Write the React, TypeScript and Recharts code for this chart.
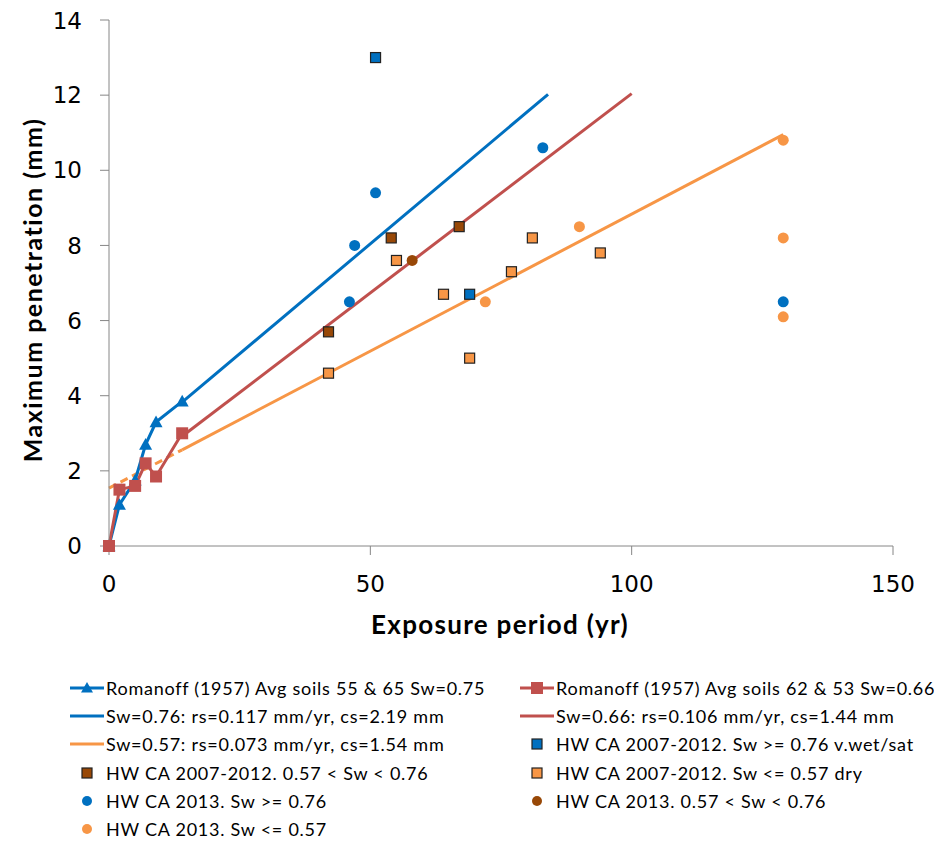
import React from "react";
import {
  ComposedChart,
  Line,
  Scatter,
  XAxis,
  YAxis,
} from "recharts";

// Romanoff (1957) averaged soils
const romanoffBlueX = [0, 2, 5, 7, 9, 14];
const romanoffBlueY = [0, 1.1, 1.75, 2.7, 3.3, 3.85];
const romanoffRedX = [0, 2, 5, 7, 9, 14];
const romanoffRedY = [0, 1.5, 1.6, 2.2, 1.85, 3.0];

// fitted lines (endpoints)
const fitBlueX = [14, 84];
const fitBlueY = [3.83, 12.02];
const fitRedX = [14, 100];
const fitRedY = [2.92, 12.04];
const fitOrangeX = [14, 129];
const fitOrangeY = [2.56, 10.95];
const fitOrangeDashX = [0, 14];
const fitOrangeDashY = [1.54, 2.56];

// HW CA 2007-2012 squares
const hwWetSqX = [51, 69];
const hwWetSqY = [13.0, 6.7];
const hwMidSqX = [42, 54, 67];
const hwMidSqY = [5.7, 8.2, 8.5];
const hwDrySqX = [42, 55, 64, 69, 77, 81, 94];
const hwDrySqY = [4.6, 7.6, 6.7, 5.0, 7.3, 8.2, 7.8];

// HW CA 2013 circles
const hwWetCiX = [46, 47, 51, 83, 129];
const hwWetCiY = [6.5, 8.0, 9.4, 10.6, 6.5];
const hwMidCiX = [58];
const hwMidCiY = [7.6];
const hwDryCiX = [72, 90, 129, 129, 129];
const hwDryCiY = [6.5, 8.5, 10.8, 8.2, 6.1];

const xTicks = [0, 50, 100, 150];
const yTicks = [0, 2, 4, 6, 8, 10, 12, 14];

const BLUE = "#0070C0";
const RED = "#C0504D";
const ORANGE = "#F79646";
const BROWN = "#984807";
const AXIS = "#868686";

const pts = (xs: number[], ys: number[]) => xs.map((x, i) => ({ x, y: ys[i] }));

const FONT_TEXT = "Lato, 'Open Sans', sans-serif";
const FONT_TICK = "'DejaVu Sans', Verdana, sans-serif";

const triangleDot = (props: any) => {
  const { cx, cy, index } = props;
  if (cx == null || cy == null) return <g key={`t-${index}`} />;
  const s = 6.5;
  return (
    <path
      key={`t-${index}`}
      d={`M${cx},${cy - s} L${cx + s},${cy + s * 0.8} L${cx - s},${cy + s * 0.8} Z`}
      fill={BLUE}
    />
  );
};

const squareDot = (props: any) => {
  const { cx, cy, index } = props;
  if (cx == null || cy == null) return <g key={`s-${index}`} />;
  const s = 6;
  return <rect key={`s-${index}`} x={cx - s} y={cy - s} width={2 * s} height={2 * s} fill={RED} />;
};

const squareShape = (fill: string) => (props: any) => {
  const { cx, cy } = props;
  return (
    <rect x={cx - 5} y={cy - 5} width={10} height={10} fill={fill} stroke="#222" strokeWidth={1.2} />
  );
};

const circleShape = (fill: string) => (props: any) => {
  const { cx, cy } = props;
  return <circle cx={cx} cy={cy} r={5.5} fill={fill} />;
};

const YTitle = (props: any) => {
  const { viewBox } = props;
  const cx = 24;
  const cy = viewBox.y + viewBox.height / 2 + 7;
  return (
    <text
      x={cx}
      y={cy}
      transform={`rotate(-90, ${cx}, ${cy})`}
      textAnchor="middle"
      dominantBaseline="central"
      fontFamily={FONT_TEXT}
      fontWeight={700}
      fontSize={25}
      letterSpacing={1.5}
      fill="#000"
    >
      Maximum penetration (mm)
    </text>
  );
};

const XTitle = (props: any) => {
  const { viewBox } = props;
  return (
    <text
      x={492}
      y={viewBox.y + 88}
      textAnchor="middle"
      fontFamily={FONT_TEXT}
      fontWeight={700}
      fontSize={26}
      letterSpacing={1.3}
      fill="#000"
    >
      Exposure period (yr)
    </text>
  );
};

type LegendItem = { label: string; kind: "lineTri" | "lineSq" | "line" | "sq" | "ci"; color: string };

const legendLeft: LegendItem[] = [
  { label: "Romanoff (1957) Avg soils 55 & 65 Sw=0.75", kind: "lineTri", color: BLUE },
  { label: "Sw=0.76: rs=0.117 mm/yr, cs=2.19 mm", kind: "line", color: BLUE },
  { label: "Sw=0.57: rs=0.073 mm/yr, cs=1.54 mm", kind: "line", color: ORANGE },
  { label: "HW CA 2007-2012. 0.57 < Sw < 0.76", kind: "sq", color: BROWN },
  { label: "HW CA 2013. Sw >= 0.76", kind: "ci", color: BLUE },
  { label: "HW CA 2013. Sw <= 0.57", kind: "ci", color: ORANGE },
];
const legendRight: LegendItem[] = [
  { label: "Romanoff (1957) Avg soils 62 & 53 Sw=0.66", kind: "lineSq", color: RED },
  { label: "Sw=0.66: rs=0.106 mm/yr, cs=1.44 mm", kind: "line", color: RED },
  { label: "HW CA 2007-2012. Sw >= 0.76 v.wet/sat", kind: "sq", color: BLUE },
  { label: "HW CA 2007-2012. Sw <= 0.57 dry", kind: "sq", color: ORANGE },
  { label: "HW CA 2013. 0.57 < Sw < 0.76", kind: "ci", color: BROWN },
];

const LegendIcon = ({ item }: { item: LegendItem }) => (
  <svg width={34} height={20} style={{ display: "block" }}>
    {(item.kind === "line" || item.kind === "lineTri" || item.kind === "lineSq") && (
      <line x1={0} y1={10} x2={34} y2={10} stroke={item.color} strokeWidth={3} />
    )}
    {item.kind === "lineTri" && <path d="M17,4 L23,14.5 L11,14.5 Z" fill={item.color} />}
    {item.kind === "lineSq" && <rect x={11} y={4} width={12} height={12} fill={item.color} />}
    {item.kind === "sq" && (
      <rect x={12} y={5} width={10} height={10} fill={item.color} stroke="#222" strokeWidth={1.2} />
    )}
    {item.kind === "ci" && <circle cx={17} cy={10} r={5} fill={item.color} />}
  </svg>
);

const LegendCol = ({ items, left }: { items: LegendItem[]; left: number }) => (
  <div style={{ position: "absolute", left, top: 666 }}>
    {items.map((it) => (
      <div
        key={it.label}
        style={{ display: "flex", alignItems: "center", height: 28.2, whiteSpace: "nowrap" }}
      >
        <LegendIcon item={it} />
        <span
          style={{
            marginLeft: 2,
            fontFamily: FONT_TEXT,
            fontSize: 18,
            letterSpacing: 0.75,
            lineHeight: "20px",
            color: "#000",
          }}
        >
          {it.label}
        </span>
      </div>
    ))}
  </div>
);

export default function App() {
  return (
    <div style={{ position: "relative", width: 926, height: 833, overflow: "hidden" }}>
      <ComposedChart
        width={926}
        height={650}
        margin={{ top: 12, right: 41, bottom: 0, left: 0 }}
      >
        <XAxis
          type="number"
          dataKey="x"
          domain={[0, 150]}
          ticks={xTicks}
          stroke={AXIS}
          tickSize={9}
          tickMargin={21}
          height={112}
          tick={{ fill: "#000", fontSize: 23, fontFamily: FONT_TICK }}
          label={<XTitle />}
        />
        <YAxis
          type="number"
          dataKey="y"
          domain={[0, 14]}
          ticks={yTicks}
          stroke={AXIS}
          tickSize={9}
          tickMargin={18}
          width={101}
          tick={{ fill: "#000", fontSize: 23, fontFamily: FONT_TICK }}
          label={<YTitle />}
        />
        <Line
          data={pts(fitOrangeDashX, fitOrangeDashY)}
          dataKey="y"
          stroke={ORANGE}
          strokeWidth={3}
          strokeDasharray="8 5"
          dot={false}
          activeDot={false}
          isAnimationActive={false}
        />
        <Line
          data={pts(fitOrangeX, fitOrangeY)}
          dataKey="y"
          stroke={ORANGE}
          strokeWidth={3}
          dot={false}
          activeDot={false}
          isAnimationActive={false}
        />
        <Line
          data={pts(fitRedX, fitRedY)}
          dataKey="y"
          stroke={RED}
          strokeWidth={3}
          dot={false}
          activeDot={false}
          isAnimationActive={false}
        />
        <Line
          data={pts(fitBlueX, fitBlueY)}
          dataKey="y"
          stroke={BLUE}
          strokeWidth={3}
          dot={false}
          activeDot={false}
          isAnimationActive={false}
        />
        <Line
          data={pts(romanoffBlueX, romanoffBlueY)}
          dataKey="y"
          stroke={BLUE}
          strokeWidth={3}
          dot={triangleDot}
          activeDot={false}
          isAnimationActive={false}
        />
        <Line
          data={pts(romanoffRedX, romanoffRedY)}
          dataKey="y"
          stroke={RED}
          strokeWidth={3}
          dot={squareDot}
          activeDot={false}
          isAnimationActive={false}
        />
        <Scatter data={pts(hwWetSqX, hwWetSqY)} dataKey="y" shape={squareShape(BLUE)} isAnimationActive={false} />
        <Scatter data={pts(hwMidSqX, hwMidSqY)} dataKey="y" shape={squareShape(BROWN)} isAnimationActive={false} />
        <Scatter data={pts(hwDrySqX, hwDrySqY)} dataKey="y" shape={squareShape(ORANGE)} isAnimationActive={false} />
        <Scatter data={pts(hwWetCiX, hwWetCiY)} dataKey="y" shape={circleShape(BLUE)} isAnimationActive={false} />
        <Scatter data={pts(hwMidCiX, hwMidCiY)} dataKey="y" shape={circleShape(BROWN)} isAnimationActive={false} />
        <Scatter data={pts(hwDryCiX, hwDryCiY)} dataKey="y" shape={circleShape(ORANGE)} isAnimationActive={false} />
      </ComposedChart>
      <LegendCol items={legendLeft} left={62} />
      <LegendCol items={legendRight} left={512} />
    </div>
  );
}
